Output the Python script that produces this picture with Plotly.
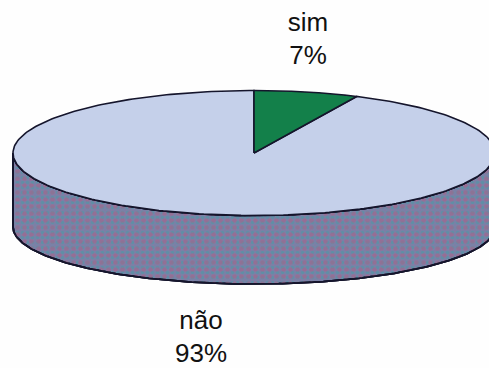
import numpy as np
import plotly.graph_objects as go

# Survey answers and their shares in percent
categories = ["sim", "não"]
shares = [7, 93]

# Disc geometry in page pixels: top face and the flatter bottom rim
CX, TOP_CY, RX, TOP_RY = 254, 153, 241, 62.5
BOTTOM_CY, BOTTOM_RY = 227, 57
OUTLINE = "#15152c"
FACE = "#c5d0ea"
WEDGE = "#13804a"
SIDE = "#7b80a6"


def rim(t, cy, ry):
    """Point on an ellipse; t is clockwise from twelve o'clock, in radians."""
    return CX + RX * np.sin(t), cy - ry * np.cos(t)


sim_end = 2 * np.pi * shares[0] / sum(shares)

fig = go.Figure()

# Visible wall of the disc: front half of the top rim, back along the bottom rim
front = np.linspace(np.pi / 2, 3 * np.pi / 2, 200)
x_top, y_top = rim(front, TOP_CY, TOP_RY)
x_bot, y_bot = rim(front[::-1], BOTTOM_CY, BOTTOM_RY)
wall_x = np.concatenate([x_top, x_bot, x_top[:1]])
wall_y = np.concatenate([y_top, y_bot, y_top[:1]])
fig.add_trace(go.Scatter(
    x=wall_x, y=wall_y, mode="lines", fill="toself", fillcolor=SIDE,
    line=dict(color=OUTLINE, width=1.8), hoverinfo="skip",
))
# Speckle layers on the wall
for colour, size, solidity in [("#4f97a6", 5, 0.4), ("#a8628a", 7, 0.35)]:
    fig.add_trace(go.Scatter(
        x=wall_x, y=wall_y, mode="lines", fill="toself",
        fillcolor="rgba(0,0,0,0)",
        fillpattern=dict(shape=".", fgcolor=colour, bgcolor="rgba(0,0,0,0)",
                         size=size, solidity=solidity, fgopacity=0.6),
        line=dict(color=OUTLINE, width=1.8), hoverinfo="skip",
    ))

# Top face: one closed wedge per answer
for start, stop, colour, name in [
    (sim_end, 2 * np.pi, FACE, categories[1]),
    (0, sim_end, WEDGE, categories[0]),
]:
    t = np.linspace(start, stop, 300)
    ex, ey = rim(t, TOP_CY, TOP_RY)
    fig.add_trace(go.Scatter(
        x=np.concatenate([[CX], ex, [CX]]),
        y=np.concatenate([[TOP_CY], ey, [TOP_CY]]),
        mode="lines", fill="toself", fillcolor=colour, name=name,
        line=dict(color=OUTLINE, width=1.6), hoverinfo="name",
    ))

# Category name and percentage on separate lines
fig.add_trace(go.Scatter(
    x=[308, 308, 201, 201],
    y=[24, 57, 322, 355],
    mode="text",
    text=[categories[0], f"{shares[0]}%", categories[1], f"{shares[1]}%"],
    textposition="middle center",
    textfont=dict(family="Liberation Sans", size=26, color="#111111"),
    hoverinfo="skip",
))

fig.update_layout(
    width=489, height=368,
    margin=dict(l=0, r=0, t=0, b=0),
    showlegend=False,
    paper_bgcolor="#fefefe",
    plot_bgcolor="#fefefe",
    xaxis=dict(range=[0, 489], visible=False, fixedrange=True),
    yaxis=dict(range=[368, 0], visible=False, fixedrange=True),
)
fig.write_html("out.html", config={"displayModeBar": False})
